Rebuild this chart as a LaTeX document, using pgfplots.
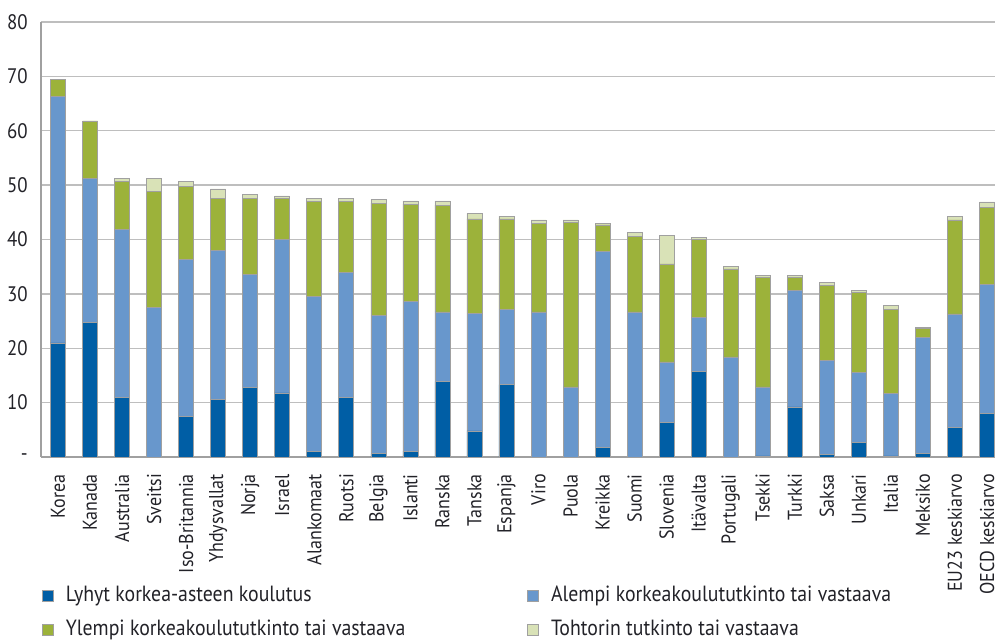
\documentclass[border=0pt]{standalone}
\usepackage{pgfplots}
\pgfplotsset{compat=1.18}
\usepackage{pgfplotstable}
\usepackage{fontspec}
\setmainfont{PT Sans}[FakeStretch=0.9]
\definecolor{cA}{RGB}{0,94,165}
\definecolor{cB}{RGB}{104,151,204}
\definecolor{cC}{RGB}{156,178,58}
\definecolor{cD}{RGB}{217,226,183}
\definecolor{txt}{RGB}{34,34,40}
\definecolor{gridc}{RGB}{190,190,190}
\definecolor{edge}{RGB}{160,160,160}
\pgfplotstableread{
x a b c d
0 21.0 45.3 3.1 0.0
1 24.7 26.5 10.6 0.0
2 10.9 30.9 8.9 0.5
3 0.0 27.5 21.3 2.4
4 7.4 28.9 13.5 0.9
5 10.6 27.4 9.5 1.8
6 12.8 20.8 13.9 0.8
7 11.8 28.2 7.5 0.5
8 1.1 28.5 17.4 0.6
9 10.9 23.1 13.0 0.6
10 0.6 25.5 20.6 0.7
11 1.1 27.5 17.9 0.6
12 13.9 12.8 19.6 0.8
13 4.8 21.6 17.4 1.0
14 13.3 13.9 16.6 0.5
15 0.0 26.7 16.2 0.7
16 0.0 12.9 30.3 0.4
17 1.8 36.0 4.9 0.2
18 0.0 26.7 13.9 0.7
19 6.4 11.1 18.0 5.2
20 15.8 9.8 14.4 0.4
21 0.0 18.4 16.2 0.4
22 0.2 12.7 20.2 0.3
23 9.2 21.5 2.4 0.3
24 0.5 17.2 13.8 0.6
25 2.7 12.9 14.6 0.4
26 0.2 11.5 15.5 0.7
27 0.7 21.3 1.6 0.2
28 5.5 20.8 17.3 0.7
29 8.0 23.8 14.1 1.0
}\datatable
\begin{document}
\fontsize{22bp}{24bp}\selectfont
\begin{tikzpicture}
\begin{axis}[
  scale only axis,
  width=954bp, height=435bp,
  xmin=-0.53, xmax=29.25,
  ymin=0, ymax=80,
  ybar stacked,
  bar width=15bp,
  axis x line*=bottom, axis y line*=left,
  axis line style={edge, line width=1.2pt},
  ymajorgrids, grid style={gridc, line width=1.3pt},
  major tick length=0pt,
  ytick={0,10,...,80},
  yticklabels={-,10,20,30,40,50,60,70,80},
  xtick=data,
  xticklabels={Korea,Kanada,Australia,Sveitsi,Iso-Britannia,Yhdysvallat,Norja,Israel,Alankomaat,Ruotsi,Belgia,Islanti,Ranska,Tanska,Espanja,Viro,Puola,Kreikka,Suomi,Slovenia,Itävalta,Portugali,Tsekki,Turkki,Saksa,Unkari,Italia,Meksiko,EU23 keskiarvo,OECD keskiarvo},
  /pgf/number format/assume math mode=true,
  xticklabel style={rotate=90, anchor=east, inner sep=0pt, text=txt, font=\fontsize{20bp}{22bp}\selectfont},
  yticklabel style={anchor=east, inner sep=0pt, text=txt, font=\fontsize{21bp}{24bp}\selectfont},
  xticklabel shift=17bp,
  yticklabel shift=13bp,
  every axis plot/.append style={draw=edge, line width=0.6pt},
  legend columns=2,
  legend cell align=left,
  legend style={at={(rel axis cs:0,0)}, anchor=north west, xshift=1bp, yshift=-129bp,
    draw=none, fill=none, inner sep=0pt, row sep=15bp,
    font=\fontsize{22bp}{24bp}\selectfont, text=txt,
    nodes={inner sep=0pt, anchor=west}},
  legend image code/.code={\draw[#1, draw=edge, line width=0.6pt] (0bp,-5.5bp) rectangle (11bp,5.5bp);},
  /tikz/column 2/.style={column sep=122bp},
  /tikz/column 1/.style={column sep=12bp},
  /tikz/column 3/.style={column sep=12bp},
  clip=true,
]
\addplot[fill=cA] table[x=x,y=a]{\datatable};
\addplot[fill=cB] table[x=x,y=b]{\datatable};
\addplot[fill=cC] table[x=x,y=c]{\datatable};
\addplot[fill=cD] table[x=x,y=d]{\datatable};
\legend{Lyhyt korkea-asteen koulutus,Alempi korkeakoulututkinto tai vastaava,Ylempi korkeakoulututkinto tai vastaava,Tohtorin tutkinto tai vastaava}
\coordinate (sw) at (rel axis cs:0,0);
\coordinate (ne) at (rel axis cs:1,1);
\end{axis}
\pgfresetboundingbox
\path ([shift={(-41bp,-184bp)}]sw) rectangle ([shift={(0bp,22bp)}]ne);
\end{tikzpicture}
\end{document}
